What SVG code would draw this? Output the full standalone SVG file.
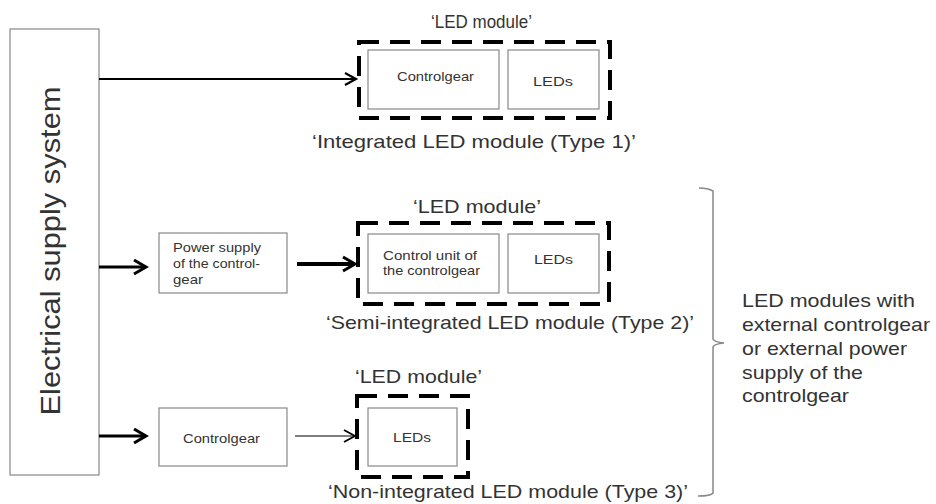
<svg xmlns="http://www.w3.org/2000/svg" width="936" height="504" viewBox="0 0 936 504">
<defs>
<style>
text{font-family:"Liberation Sans",Arial,sans-serif;fill:#333}
.box{fill:#fff;stroke:#888;stroke-width:1.2}
.dash{fill:none;stroke:#000;stroke-width:4;stroke-dasharray:20 11}
.lbl{font-size:19px}
.in{font-size:13.5px}
.side{font-size:19px}
.conn{stroke:#000;fill:none}
</style>
<marker id="ah" markerUnits="userSpaceOnUse" markerWidth="16" markerHeight="16" refX="13" refY="8" orient="auto" overflow="visible">
<path d="M1,1 L13,8 L1,15" fill="none" stroke="#000" stroke-width="3"/>
</marker>
<marker id="ahm" markerUnits="userSpaceOnUse" markerWidth="16" markerHeight="16" refX="13" refY="8" orient="auto" overflow="visible">
<path d="M2,2 L13,8 L2,14" fill="none" stroke="#000" stroke-width="2.2"/>
</marker>
<marker id="aht" markerUnits="userSpaceOnUse" markerWidth="16" markerHeight="16" refX="13" refY="8" orient="auto" overflow="visible">
<path d="M2,2 L13,8 L2,14" fill="none" stroke="#000" stroke-width="1.8"/>
</marker>
</defs>
<rect width="936" height="504" fill="#fff"/>

<g id="supply">
<rect class="box" x="10" y="29" width="89" height="446"/>
<text transform="translate(60,251) rotate(-90)" text-anchor="middle" font-size="28" textLength="329" lengthAdjust="spacingAndGlyphs">Electrical supply system</text>
</g>

<g id="module1">
<text class="lbl" x="431" y="28" font-size="19" textLength="101" lengthAdjust="spacingAndGlyphs">‘LED module’</text>
<rect class="dash" x="359" y="42" width="251" height="76"/>
<rect class="box" x="368" y="50" width="131" height="59"/>
<text class="in" x="397" y="81" font-size="14" textLength="77" lengthAdjust="spacingAndGlyphs">Controlgear</text>
<rect class="box" x="508" y="50" width="91" height="59"/>
<text class="in" x="533" y="86" font-size="14" textLength="40" lengthAdjust="spacingAndGlyphs">LEDs</text>
<text class="lbl" x="312" y="148" textLength="324" lengthAdjust="spacingAndGlyphs">‘Integrated LED module (Type 1)’</text>
</g>

<g id="powersupply">
<rect class="box" x="159" y="233" width="128" height="60"/>
<text class="in" x="173" y="252" textLength="88" lengthAdjust="spacingAndGlyphs">Power supply</text>
<text class="in" x="173" y="268" textLength="87" lengthAdjust="spacingAndGlyphs">of the control-</text>
<text class="in" x="173" y="284" textLength="30" lengthAdjust="spacingAndGlyphs">gear</text>
</g>

<g id="module2">
<text class="lbl" x="413" y="213" font-size="20" textLength="128" lengthAdjust="spacingAndGlyphs">‘LED module’</text>
<rect class="dash" x="358" y="223" width="251" height="81"/>
<rect class="box" x="368" y="234" width="131" height="59"/>
<text class="in" x="383" y="260" font-size="14" textLength="94" lengthAdjust="spacingAndGlyphs">Control unit of</text>
<text class="in" x="383" y="275" font-size="14" textLength="97" lengthAdjust="spacingAndGlyphs">the controlgear</text>
<rect class="box" x="508" y="234" width="91" height="59"/>
<text class="in" x="534" y="264" font-size="14" textLength="39" lengthAdjust="spacingAndGlyphs">LEDs</text>
<text class="lbl" x="326" y="329" font-size="20" textLength="368" lengthAdjust="spacingAndGlyphs">‘Semi-integrated LED module (Type 2)’</text>
</g>

<g id="controlgear3">
<rect class="box" x="159" y="408" width="128" height="58"/>
<text class="in" x="183" y="443" font-size="14" textLength="77" lengthAdjust="spacingAndGlyphs">Controlgear</text>
</g>

<g id="module3">
<text class="lbl" x="355" y="383" font-size="20" textLength="127" lengthAdjust="spacingAndGlyphs">‘LED module’</text>
<rect class="dash" x="357" y="396" width="111" height="81"/>
<rect class="box" x="368" y="408" width="89" height="58"/>
<text class="in" x="393" y="442" font-size="14" textLength="38" lengthAdjust="spacingAndGlyphs">LEDs</text>
<text class="lbl" x="328" y="498" font-size="20" textLength="360" lengthAdjust="spacingAndGlyphs">‘Non-integrated LED module (Type 3)’</text>
</g>

<g id="group-note">
<path d="M699,188 Q708,188 713,191 L713,339 Q714,342 724,343 Q714,344 713,347 L713,493 Q711,496 698,496" fill="none" stroke="#888" stroke-width="1.5"/>
<text class="side" x="742" y="307" textLength="173" lengthAdjust="spacingAndGlyphs">LED modules with</text>
<text class="side" x="742" y="331" textLength="188" lengthAdjust="spacingAndGlyphs">external controlgear</text>
<text class="side" x="742" y="355" textLength="165" lengthAdjust="spacingAndGlyphs">or external power</text>
<text class="side" x="742" y="379" textLength="121" lengthAdjust="spacingAndGlyphs">supply of the</text>
<text class="side" x="742" y="402" textLength="107" lengthAdjust="spacingAndGlyphs">controlgear</text>
</g>

<g id="connectors">
<line class="conn" x1="99" y1="79" x2="356" y2="79" stroke-width="2" marker-end="url(#ahm)"/>
<line class="conn" x1="99" y1="267" x2="146" y2="267" stroke-width="3" marker-end="url(#ah)"/>
<line class="conn" x1="297" y1="264" x2="355" y2="264" stroke-width="4" marker-end="url(#ah)"/>
<line class="conn" x1="99" y1="436" x2="146" y2="436" stroke-width="3" marker-end="url(#ah)"/>
<line class="conn" x1="295" y1="436" x2="355" y2="436" stroke-width="1.2" marker-end="url(#aht)"/>
</g>
</svg>
